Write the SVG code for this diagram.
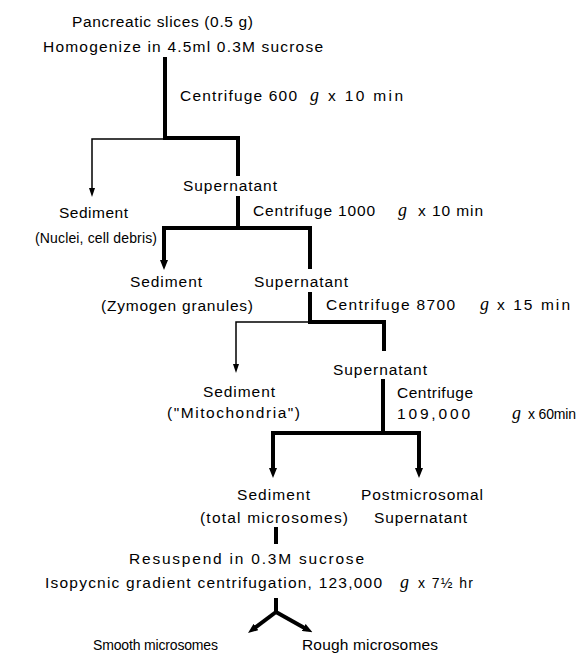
<svg xmlns="http://www.w3.org/2000/svg" width="581" height="653" viewBox="0 0 581 653">
<style>
text{font-family:"Liberation Sans",Arial,sans-serif;font-size:15.5px;fill:#000}
.s{font-size:14px}
.g{font-family:"Liberation Serif","Times New Roman",serif;font-style:italic;font-size:18px}
.thick{fill:none;stroke:#000;stroke-width:4;stroke-linecap:square;stroke-linejoin:miter}
.arrowthick{fill:none;stroke:#000;stroke-width:4;stroke-linecap:butt;marker-end:url(#ah)}
.arrowthin{fill:none;stroke:#000;stroke-width:1.5;stroke-linecap:butt;marker-end:url(#ahs)}
</style>
<defs>
<marker id="ah" markerUnits="userSpaceOnUse" viewBox="0 0 10 8" markerWidth="10" markerHeight="8" refX="4" refY="4" orient="auto"><path d="M0,0 L10,4 L0,8 z" fill="#000"/></marker>
<marker id="ahs" markerUnits="userSpaceOnUse" viewBox="0 0 9 6" markerWidth="9" markerHeight="6" refX="3" refY="3" orient="auto"><path d="M0,0 L9,3 L0,6 z" fill="#000"/></marker>
</defs>
<rect width="581" height="653" fill="#fff"/>

<g id="connectors">
<path class="thick" d="M165,59 V138 H238 V174"/>
<path class="arrowthin" d="M165,139 H92 V191"/>
<path class="thick" d="M238,198 V228"/>
<path class="arrowthick" d="M164,228 V264"/>
<path class="thick" d="M164,228 H310 V267"/>
<path class="thick" d="M310,294 V322 H384 V349"/>
<path class="arrowthin" d="M310,322 H236 V367"/>
<path class="thick" d="M383,381 V433"/>
<path class="thick" d="M273,433 H419"/>
<path class="arrowthick" d="M273,433 V472"/>
<path class="arrowthick" d="M419,433 V472"/>
<path class="thick" d="M276,529 V542"/>
<path class="thick" d="M276,600 V612"/>
<path class="arrowthick" d="M276,612 L252.8,629.4"/>
<path class="arrowthick" d="M276,612 L307.2,629.4"/>
</g>

<g id="start">
<text x="72" y="27" textLength="181">Pancreatic slices (0.5 g)</text>
<text x="43" y="52" textLength="280">Homogenize in 4.5ml 0.3M sucrose</text>
</g>
<g id="step1">
<text y="101"><tspan x="180" textLength="117">Centrifuge 600</tspan> <tspan x="310" class="g">g</tspan> <tspan x="328" textLength="75">x 10 min</tspan></text>
</g>
<g id="supernatant1"><text x="183" y="191" textLength="94">Supernatant</text></g>
<g id="sediment1">
<text x="59" y="218" textLength="69">Sediment</text>
<text class="s" x="35" y="243" textLength="122">(Nuclei, cell debris)</text>
</g>
<g id="step2">
<text y="216"><tspan x="253" textLength="122">Centrifuge 1000</tspan> <tspan x="398" class="g">g</tspan> <tspan x="418" textLength="65">x 10 min</tspan></text>
</g>
<g id="sediment2">
<text x="130" y="287" textLength="72">Sediment</text>
<text x="101" y="311" textLength="152">(Zymogen granules)</text>
</g>
<g id="supernatant2"><text x="254" y="287" textLength="94">Supernatant</text></g>
<g id="step3">
<text y="310"><tspan x="326" textLength="129">Centrifuge 8700</tspan> <tspan x="480" class="g">g</tspan> <tspan x="497" textLength="73">x 15 min</tspan></text>
</g>
<g id="supernatant3"><text x="333" y="375" textLength="94">Supernatant</text></g>
<g id="sediment3">
<text x="203" y="397" textLength="72">Sediment</text>
<text x="167" y="418" textLength="133">("Mitochondria")</text>
</g>
<g id="step4">
<text x="397" y="398" textLength="76">Centrifuge</text>
<text y="419"><tspan x="397" textLength="73">109,000</tspan> <tspan x="512" class="g">g</tspan> <tspan x="528" class="s" textLength="48">x 60min</tspan></text>
</g>
<g id="sediment4">
<text x="237" y="500" textLength="73">Sediment</text>
<text x="200" y="523" textLength="148">(total microsomes)</text>
</g>
<g id="postmicrosomal">
<text x="361" y="500" textLength="122">Postmicrosomal</text>
<text x="374" y="523" textLength="93">Supernatant</text>
</g>
<g id="step5">
<text x="129" y="564" textLength="235">Resuspend in 0.3M sucrose</text>
<text y="588"><tspan x="45" textLength="337">Isopycnic gradient centrifugation, 123,000</tspan> <tspan x="400" class="g">g</tspan> <tspan x="418" class="s" textLength="55">x 7½ hr</tspan></text>
</g>
<g id="smooth"><text class="s" x="93" y="650" textLength="125">Smooth microsomes</text></g>
<g id="rough"><text x="302" y="650" textLength="136">Rough microsomes</text></g>
</svg>
